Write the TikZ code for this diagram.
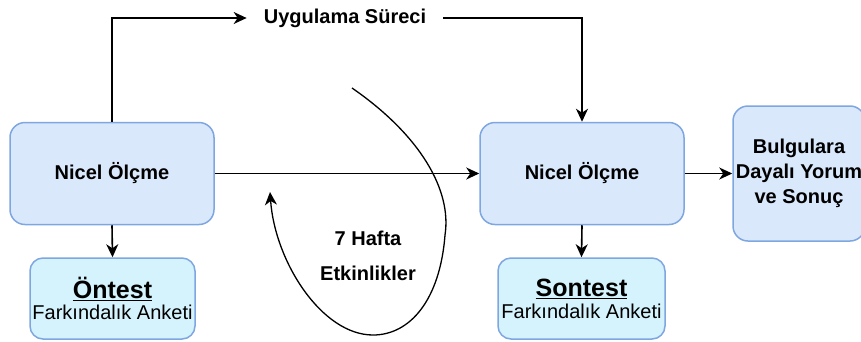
\documentclass[tikz,border=0pt]{standalone}
\usepackage{fontspec}
\setmainfont{Liberation Sans}
\usetikzlibrary{arrows.meta,positioning,calc}
\definecolor{olcummavi}{HTML}{DAE8FC}
\definecolor{testmavi}{HTML}{D4F3FD}
\definecolor{kenarmavi}{HTML}{7EA6E0}

\begin{document}
\begin{tikzpicture}[x=1pt,y=-1pt]

	\tikzset{
	olcum/.style={draw=kenarmavi, fill=olcummavi, line width=1.5pt, rounded corners=15pt,
		minimum width=204pt, minimum height=102pt, font=\fontsize{20}{24}\selectfont\bfseries},
	testkutu/.style={draw=kenarmavi, fill=testmavi, line width=1.5pt, rounded corners=13pt,
		minimum height=81pt, align=center, inner sep=0pt},
	oku/.style={-{Stealth[length=13pt,width=12pt,inset=4pt]}, line width=1.6pt},
	yazi/.style={font=\fontsize{20}{24}\selectfont\bfseries, align=center}
}

\useasboundingbox (0,0) rectangle (861,341);

% olcum kutulari
\node[olcum] (nicel1) at (112,173.5) {Nicel Ölçme};
\node[olcum] (nicel2) at (582,173.5) {Nicel Ölçme};
\node[olcum, minimum width=132pt, minimum height=135pt, align=center, inner sep=0pt,
	font=\fontsize{20}{25}\selectfont\bfseries] (sonuc) at (799,173.5) {Bulgulara\\Dayalı Yorum\\ve Sonuç};

% test kutulari
\node[testkutu, minimum width=165pt] (ontest) at (112.5,298.5)
	{{\fontsize{25}{27}\selectfont\bfseries\underline{Öntest}}\\[4pt]{\fontsize{20}{24}\selectfont Farkındalık Anketi}};
\node[testkutu, minimum width=167pt] (sontest) at (581.5,298.5)
	{{\fontsize{25}{27}\selectfont\bfseries\underline{Sontest}}\\[4pt]{\fontsize{20}{24}\selectfont Farkındalık Anketi}};

% uygulama sureci
\node[yazi, inner xsep=17pt] (surec) at (345,18) {Uygulama Süreci};
\draw[oku] (nicel1.north) |- (surec.west);
\draw[oku] (surec.east) -| (nicel2.north);

\draw[oku] (nicel1.east) -- (nicel2.west);
\draw[oku] (nicel2.east) -- (sonuc.west);
\draw[oku] (nicel1.south) -- (ontest.north);
\draw[oku] (nicel2.south) -- (sontest.north);

% 7 hafta dongusu
\coordinate (haftabas) at (352,88);
\coordinate (haftason) at (270,192);
\draw[oku, line width=1.3pt] (haftabas) .. controls (420,135) and (452,190) .. (445,235)
	.. controls (440,300) and (410,335) .. (373,335)
	.. controls (322,335) and (275,262) .. (haftason);
\node[yazi, font=\fontsize{20}{35}\selectfont\bfseries] (hafta) at (368,255.5) {7 Hafta\\Etkinlikler};

\end{tikzpicture}
\end{document}
